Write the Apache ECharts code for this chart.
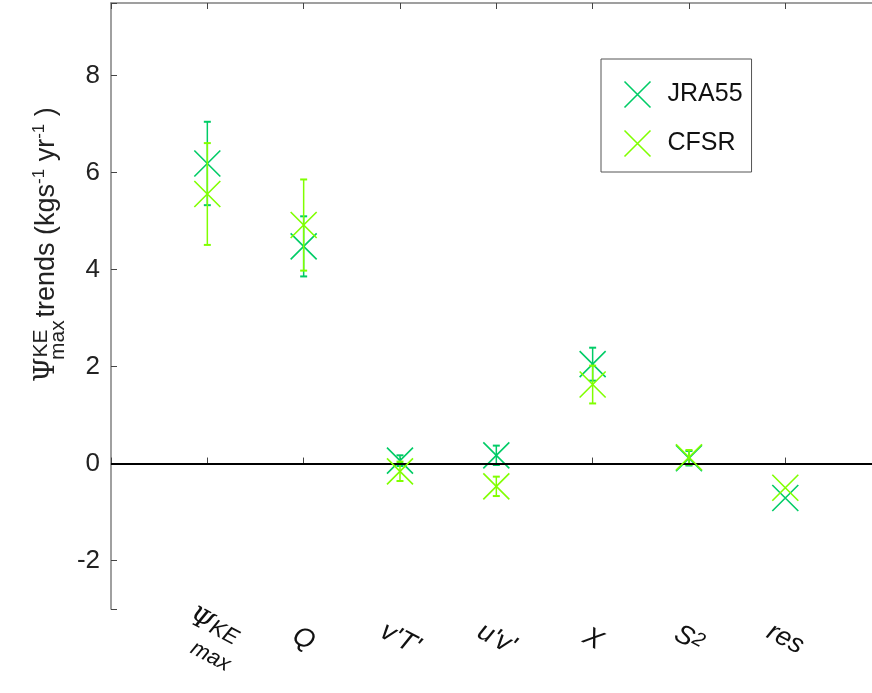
<!DOCTYPE html>
<html>
<head>
<meta charset="utf-8">
<script src="https://cdn.jsdelivr.net/npm/echarts@6/dist/echarts.min.js"></script>
<style>
  html, body { margin: 0; padding: 0; background: #fff; }
  #main { width: 872px; height: 693px; }
</style>
</head>
<body>
<div id="main"></div>
<script>
const chartDom = document.getElementById('main')
const myChart = echarts.init(chartDom)

// terms of the budget, left to right
const categories = ['ΨKEmax', 'Q', "v'T'", "u'v'", 'X', 'S2', 'res']

// trends and error half-widths (kg s^-1 yr^-1)
const jraValues = [6.19, 4.48, 0.06, 0.17, 2.05, 0.11, -0.71]
const jraErrors = [0.86, 0.62, 0.11, 0.2, 0.34, 0.15, 0]
const cfsrValues = [5.56, 4.92, -0.16, -0.47, 1.63, 0.13, -0.5]
const cfsrErrors = [1.05, 0.94, 0.2, 0.2, 0.39, 0.15, 0]

const yTicks = [-2, 0, 2, 4, 6, 8]

const JRA_COLOR = '#00cc66'
const CFSR_COLOR = '#80ff00'
const FONT = 'Liberation Sans, Arial, sans-serif'
const CROSS = 'path://M0,0L10,10M10,0L0,10'

function points(values, errors) {
    return values.map((v, i) => [i + 1, v, errors[i]])
}

function errorBar(params, api) {
    const x = api.value(0)
    const y = api.value(1)
    const e = api.value(2)
    if (!e) return null
    const top = api.coord([x, y + e])
    const bot = api.coord([x, y - e])
    const style = { stroke: api.visual('color'), lineWidth: 1.5 }
    const cap = 3.5
    return {
        type: 'group',
        children: [
            { type: 'line', shape: { x1: top[0], y1: top[1], x2: bot[0], y2: bot[1] }, style },
            { type: 'line', shape: { x1: top[0] - cap, y1: top[1], x2: top[0] + cap, y2: top[1] }, style: { stroke: style.stroke, lineWidth: 2 } },
            { type: 'line', shape: { x1: bot[0] - cap, y1: bot[1], x2: bot[0] + cap, y2: bot[1] }, style: { stroke: style.stroke, lineWidth: 2 } }
        ]
    }
}

function xLabel(value) {
    const name = categories[value - 1]
    if (!name) return ''
    if (name === 'ΨKEmax') return '{psi|Ψ}{sup|KE}\n{sub|max}'
    if (name === 'S2') return '{it|S}{sup2|2}'
    return '{it|' + name + '}'
}

const labelRich = {
    it: { fontSize: 27, fontStyle: 'italic', fontFamily: FONT, color: '#111' },
    psi: { fontSize: 27, fontStyle: 'italic', fontFamily: 'DejaVu Serif', color: '#111', lineHeight: 28 },
    sup: { fontSize: 22, fontStyle: 'italic', fontFamily: FONT, color: '#111', lineHeight: 28 },
    sup2: { fontSize: 20, fontStyle: 'italic', fontFamily: FONT, color: '#111', verticalAlign: 'top', lineHeight: 26 },
    sub: { fontSize: 22, fontStyle: 'italic', fontFamily: FONT, color: '#111', padding: [0, 0, 0, 22], lineHeight: 26 }
}

const axisGray = '#808080'

const option = {
    animation: false,
    grid: { left: 111, top: 3, bottom: 84, right: 0 },
    legend: {
        orient: 'vertical',
        left: 601,
        top: 59,
        padding: [20, 9, 13, 21],
        itemWidth: 26,
        itemHeight: 26,
        itemGap: 18,
        borderColor: '#555',
        borderWidth: 1,
        backgroundColor: '#fff',
        textStyle: { fontSize: 25, fontFamily: FONT, color: '#111', lineHeight: 28, padding: [0, 0, 0, 12] },
        data: [
            { name: 'JRA55', icon: CROSS, itemStyle: { color: 'none', borderColor: JRA_COLOR, borderWidth: 1.6 } },
            { name: 'CFSR', icon: CROSS, itemStyle: { color: 'none', borderColor: CFSR_COLOR, borderWidth: 1.6 } }
        ]
    },
    xAxis: [
        {
            type: 'value', min: 0, max: 7.9, interval: 1, position: 'bottom',
            axisLine: { lineStyle: { color: axisGray, width: 1.5 } },
            axisTick: { inside: true, length: 6, lineStyle: { color: '#444' } },
            splitLine: { show: false },
            axisLabel: { formatter: xLabel, rotate: -28, margin: 30, rich: labelRich, align: 'center', showMaxLabel: false }
        },
        {
            type: 'value', min: 0, max: 7.9, interval: 1, position: 'top',
            axisLine: { lineStyle: { color: axisGray, width: 1.5 } },
            axisTick: { inside: true, length: 6, lineStyle: { color: '#444' } },
            splitLine: { show: false },
            axisLabel: { show: false }
        }
    ],
    yAxis: {
        type: 'value', min: -3, max: 9.5, splitNumber: 6,
        axisLine: { show: true, lineStyle: { color: axisGray, width: 1.5 } },
        axisTick: { show: true, inside: true, length: 6, lineStyle: { color: '#444' } },
        splitLine: { show: false },
        axisLabel: {
            fontSize: 26, fontFamily: FONT, color: '#222', margin: 11,
            formatter: v => (yTicks.includes(v) ? String(v) : '')
        }
    },
    graphic: [
        {
            type: 'group',
            x: 47, y: 382, rotation: Math.PI / 2,
            children: [
                {
                    type: 'text', x: 0, y: 0,
                    style: {
                        text: '{psi|Ψ}{sup|KE}{m|trends (kgs}{s|-1}{m| yr}{s|-1}{m| )}',
                        align: 'left', verticalAlign: 'middle',
                        rich: {
                            psi: { fontSize: 28, fontFamily: 'DejaVu Serif', fill: '#222', lineHeight: 32 },
                            sup: { fontSize: 21, fontFamily: FONT, fill: '#222', width: 40, verticalAlign: 'top', lineHeight: 32 },
                            m: { fontSize: 27, fontFamily: FONT, fill: '#222', lineHeight: 32 },
                            s: { fontSize: 17, fontFamily: FONT, fill: '#222', verticalAlign: 'top', lineHeight: 32, padding: [0, 0, 8, 0] }
                        }
                    }
                },
                {
                    type: 'text', x: 22, y: 11,
                    style: { text: 'max', fontSize: 21, fontFamily: FONT, fill: '#222', verticalAlign: 'middle' }
                }
            ]
        }
    ],
    series: [
        {
            name: 'JRA55', type: 'custom', renderItem: errorBar,
            data: points(jraValues, jraErrors), itemStyle: { color: JRA_COLOR }, z: 2
        },
        {
            name: 'JRA55', type: 'scatter', symbol: CROSS, symbolSize: 26,
            data: points(jraValues, jraErrors),
            itemStyle: { color: 'none', borderColor: JRA_COLOR, borderWidth: 1.6, opacity: 1 },
            z: 3,
            markLine: {
                silent: true, symbol: 'none', label: { show: false },
                lineStyle: { color: '#000', width: 2, type: 'solid' },
                data: [{ yAxis: 0 }]
            }
        },
        {
            name: 'CFSR', type: 'custom', renderItem: errorBar,
            data: points(cfsrValues, cfsrErrors), itemStyle: { color: CFSR_COLOR }, z: 4
        },
        {
            name: 'CFSR', type: 'scatter', symbol: CROSS, symbolSize: 26,
            data: points(cfsrValues, cfsrErrors),
            itemStyle: { color: 'none', borderColor: CFSR_COLOR, borderWidth: 1.6, opacity: 1 },
            z: 5
        }
    ]
}

myChart.setOption(option)
</script>
</body>
</html>
